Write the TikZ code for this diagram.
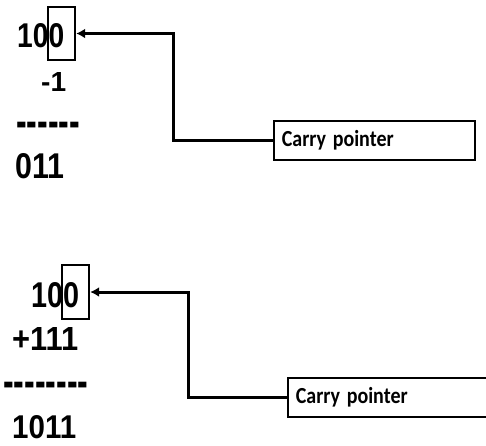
\documentclass[tikz,border=0pt]{standalone}
\usepackage{fontspec}
\usetikzlibrary{arrows.meta}
\newfontfamily\numfont{Liberation Sans}
\newfontfamily\labfont{Carlito}
\tikzset{
  num/.style={anchor=base west, inner sep=0pt, font=\numfont\bfseries\fontsize{33}{33}\selectfont},
  dashrow/.style={anchor=base west, inner sep=0pt, font=\numfont\bfseries\fontsize{32}{32}\selectfont},
  carrybox/.style={draw, line width=2.4pt, minimum width=27pt, inner sep=0pt},
  labelbox/.style={draw, line width=1.8pt, anchor=west, minimum height=39pt, inner xsep=8pt,
    align=left, font=\labfont\bfseries\fontsize{23}{23}\selectfont},
  conn/.style={line width=3pt, -{Latex[length=9pt,width=10pt]}},
}
% digit rows are set to a fixed width and height
\newcommand{\digits}[3]{\resizebox{#1pt}{#2pt}{#3}}
\newcommand{\thick}[1]{\scalebox{1}[1.5]{#1}}
\newcommand{\narrow}[1]{\scalebox{0.87}[1]{#1}}
\newcommand{\dashes}{-\kern0pt-\kern0pt-\kern0pt-\kern0pt-\kern0pt-}
\newcommand{\dashesl}{-\kern0pt-\kern0pt-\kern0pt-\kern0pt-\kern0pt-\kern0pt-\kern0pt-}
\begin{document}
\begin{tikzpicture}[x=1pt,y=-1pt]
  \useasboundingbox (0,0) rectangle (486,445);
  \clip (0,0) rectangle (486,445);
  \fill[white] (0,0) rectangle (486,445);

  % subtraction: 100 - 1
  \node[num] (a1) at (17,47) {\digits{47}{24}{100}};
  \node[num] (a2) at (41,91) {\digits{25}{19}{-1}};
  \node[dashrow] (a3) at (16,137) {\thick{\dashes}};
  \node[num] (a4) at (15,178) {\digits{49}{25}{011}};
  \node[carrybox, minimum height=53pt] (cb1) at (61.5,33.5) {};
  \node[labelbox, text width=185pt] (lab1) at (273,140.5) {\narrow{Carry pointer}};
  \draw[conn] (lab1.west) -- ++(-100,0) |- (cb1.east);

  % addition: 100 + 111
  \node[num] (b1) at (31,307) {\digits{48}{25}{100}};
  \node[num] (b2) at (12,350) {\digits{66}{23}{+111}};
  \node[dashrow] (b3) at (3,397) {\thick{\dashesl}};
  \node[num] (b4) at (12,438) {\digits{64}{23}{1011}};
  \node[carrybox, minimum height=54pt] (cb2) at (75.5,292) {};
  \node[labelbox, text width=204pt] (lab2) at (287,397.5) {\narrow{Carry pointer}};
  \draw[conn] (lab2.west) -- ++(-99,0) |- (cb2.east);
\end{tikzpicture}
\end{document}
